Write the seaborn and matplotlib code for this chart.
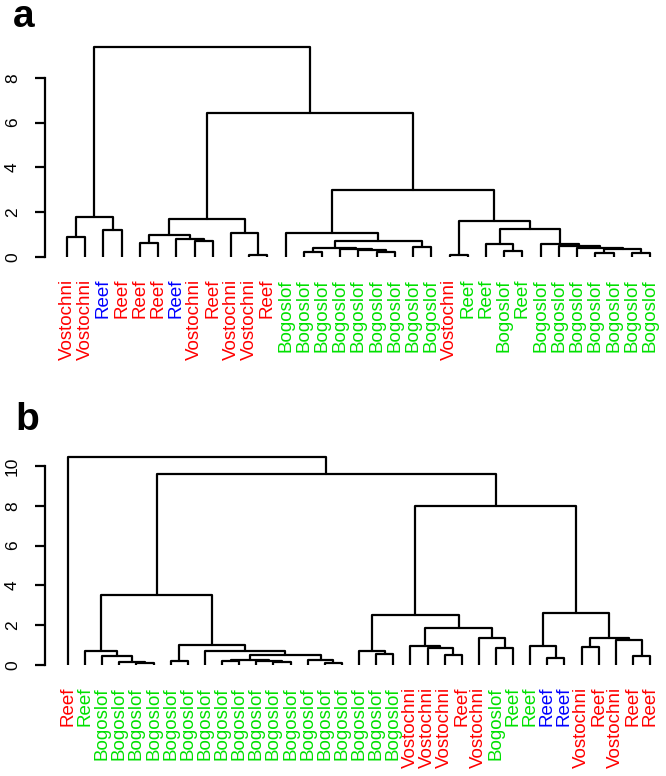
import pandas as pd
import seaborn as sns
import matplotlib
matplotlib.use("Agg")
import matplotlib.pyplot as plt

sns.set_style("white")
plt.rcParams['font.family'] = ['Liberation Sans', 'DejaVu Sans']
plt.rcParams['text.color'] = 'black'
plt.rcParams['ytick.color'] = 'black'

GREEN = "#00E000"

# leaf labels in dendrogram order
labels_a = ["Vostochni", "Vostochni", "Reef", "Reef", "Reef", "Reef", "Reef",
            "Vostochni", "Reef", "Vostochni", "Vostochni", "Reef",
            "Bogoslof", "Bogoslof", "Bogoslof", "Bogoslof", "Bogoslof",
            "Bogoslof", "Bogoslof", "Bogoslof", "Bogoslof",
            "Vostochni", "Reef", "Reef", "Bogoslof", "Reef",
            "Bogoslof", "Bogoslof", "Bogoslof", "Bogoslof", "Bogoslof",
            "Bogoslof", "Bogoslof"]
colors_a = ["red", "red", "blue", "red", "red", "red", "blue",
            "red", "red", "red", "red", "red",
            GREEN, GREEN, GREEN, GREEN, GREEN, GREEN, GREEN, GREEN, GREEN,
            "red", GREEN, GREEN, GREEN, GREEN,
            GREEN, GREEN, GREEN, GREEN, GREEN, GREEN, GREEN]

labels_b = ["Reef", "Reef",
            "Bogoslof", "Bogoslof", "Bogoslof", "Bogoslof", "Bogoslof", "Bogoslof",
            "Bogoslof", "Bogoslof", "Bogoslof", "Bogoslof", "Bogoslof", "Bogoslof",
            "Bogoslof", "Bogoslof", "Bogoslof", "Bogoslof", "Bogoslof", "Bogoslof",
            "Vostochni", "Vostochni", "Vostochni", "Reef", "Vostochni", "Bogoslof",
            "Reef", "Reef", "Reef", "Reef", "Vostochni", "Reef", "Vostochni",
            "Reef", "Reef"]
colors_b = ["red", GREEN,
            GREEN, GREEN, GREEN, GREEN, GREEN, GREEN, GREEN, GREEN, GREEN,
            GREEN, GREEN, GREEN, GREEN, GREEN, GREEN, GREEN, GREEN, GREEN,
            "red", "red", "red", "red", "red", GREEN,
            GREEN, GREEN, "blue", "blue", "red", "red", "red", "red", "red"]

# merge trees: (height, left, right), leaves are positions 1..n
tree_a = (9.36,
          (1.77, (0.91, 1, 2), (1.20, 3, 4)),
          (6.41,
           (1.68,
            (0.97, (0.61, 5, 6), (0.79, 7, (0.70, 8, 9))),
            (1.06, 10, (0.09, 11, 12))),
           (2.99,
            (1.06, 13,
             (0.70,
              (0.39, (0.23, 14, 15), (0.35, 16, (0.30, 17, (0.24, 18, 19)))),
              (0.46, 20, 21))),
            (1.60, (0.09, 22, 23),
             (1.24, (0.57, 24, (0.27, 25, 26)),
              (0.57, 27, (0.51, 28, (0.42, 29,
                                     (0.35, (0.20, 30, 31), (0.20, 32, 33))))))))))

tree_b = (10.47, 1,
          (9.58,
           (3.52,
            (0.72, 2, (0.45, 3, (0.13, 4, (0.10, 5, 6)))),
            (1.00, (0.22, 7, 8),
             (0.72, 9,
              (0.50,
               (0.25, (0.18, 10, 11), (0.20, 12, (0.13, 13, 14))),
               (0.27, 15, (0.10, 16, 17)))))),
           (8.00,
            (2.51,
             (0.72, 18, (0.55, 19, 20)),
             (1.88, (0.97, 21, (0.84, 22, (0.50, 23, 24))),
              (1.37, 25, (0.87, 26, 27)))),
            (2.60,
             (0.95, 28, (0.37, 29, 30)),
             (1.34, (0.92, 31, 32), (1.26, 33, (0.45, 34, 35)))))))


def links(node, rows):
    if not isinstance(node, tuple):
        return node, 0.0
    h, left, right = node
    xl, hl = links(left, rows)
    xr, hr = links(right, rows)
    k = len(rows) // 4
    for x, y in [(xl, hl), (xl, h), (xr, h), (xr, hr)]:
        rows.append({"link": k, "x": x, "y": y})
    return (xl + xr) / 2, h


def draw(ax, tree, labels, colors, xlim, ylim, top, letter, letter_xy):
    rows = []
    links(tree, rows)
    df = pd.DataFrame(rows)
    sns.lineplot(data=df, x="x", y="y", units="link", estimator=None, sort=False,
                 color="black", linewidth=1.6, ax=ax, legend=False)
    ax.set_xlim(*xlim)
    ax.set_ylim(*ylim)
    for s in ["top", "right", "bottom"]:
        ax.spines[s].set_visible(False)
    ax.spines["left"].set_bounds(0, top)
    ax.spines["left"].set_linewidth(1.6)
    ax.spines["left"].set_color("black")
    ticks = list(range(0, top + 1, 2))
    ax.set_yticks(ticks)
    ax.set_yticklabels([str(t) for t in ticks], rotation=90, va="center")
    ax.tick_params(axis="y", left=True, length=7, width=1.6, pad=11,
                   colors="black", labelsize=12.5)
    ax.set_xticks([])
    ax.set_xlabel("")
    ax.set_ylabel("")
    for i, (lab, col) in enumerate(zip(labels, colors), start=1):
        ax.annotate(lab, xy=(i, 0), xytext=(0, -22), textcoords="offset pixels",
                    rotation=90, ha="center", va="top", color=col, fontsize=13.5,
                    annotation_clip=False)
    fig.text(letter_xy[0], letter_xy[1], letter, fontsize=28, fontweight="bold",
             va="baseline", ha="left", color="black")


fig = plt.figure(figsize=(6.66, 7.76), dpi=100)
W, H = 666, 776

ax_a = fig.add_axes([45 / W, (H - 257) / H, 615 / W, 9.6 * 22.4 / H])
draw(ax_a, tree_a, labels_a, colors_a, (-0.207, 33.55), (0, 9.6), 8, "a",
     (13 / W, 1 - 27 / H))

ax_b = fig.add_axes([45 / W, (H - 665) / H, 615 / W, 10.8 * 19.9 / H])
draw(ax_b, tree_b, labels_b, colors_b, (-0.343, 35.58), (0, 10.8), 10, "b",
     (15 / W, 1 - 430 / H))

fig.savefig("out.png", dpi=100)
